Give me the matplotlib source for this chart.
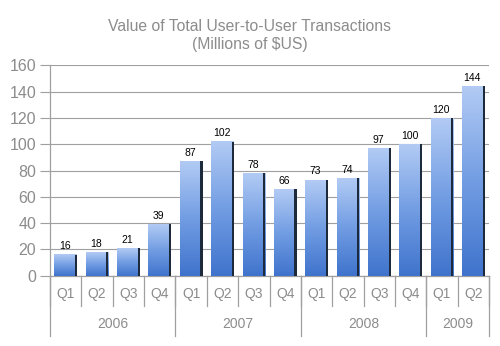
import numpy as np
import matplotlib.pyplot as plt
from matplotlib.colors import LinearSegmentedColormap

plt.rcParams["font.family"] = ["Liberation Sans", "DejaVu Sans"]

quarters = ["Q1", "Q2", "Q3", "Q4", "Q1", "Q2", "Q3", "Q4",
            "Q1", "Q2", "Q3", "Q4", "Q1", "Q2"]
values = [16, 18, 21, 39, 87, 102, 78, 66, 73, 74, 97, 100, 120, 144]
years = ["2006", "2007", "2008", "2009"]
year_counts = [4, 4, 4, 2]

grey = "#8c8c8c"
line_grey = "#a0a0a0"

fig = plt.figure(figsize=(5, 3.46), dpi=100)
ax = fig.add_axes([0.1, 0.203, 0.878, 0.608])

cmap = LinearSegmentedColormap.from_list("bar", ["#3f73cc", "#729de3", "#b2cbf4"])
grad = np.linspace(0, 1, 256).reshape(-1, 1)

n = len(values)
bw = 0.72
for i, v in enumerate(values):
    x0 = i + (1 - bw) / 2
    x1 = x0 + bw
    ax.imshow(grad, extent=[x0, x1, 0, v], origin="lower", aspect="auto",
              cmap=cmap, zorder=3)
    ax.bar(x1 - 0.03, v, width=0.07, color="#1c2a3c", zorder=4)
    ax.text(i + 0.5 - 0.03, v + 2.5, str(v), ha="center", va="bottom",
            fontsize=7.5, color="black", zorder=5)

ax.set_xlim(0, n)
ax.set_ylim(0, 160)
ax.set_yticks(range(0, 161, 20))
ax.yaxis.grid(True, color=line_grey, linewidth=0.8, zorder=0)
ax.set_axisbelow(True)
ax.tick_params(axis="y", labelsize=11.5, labelcolor=grey, color=line_grey,
               length=7, width=0.8, direction="out", pad=3)
ax.set_xticks([])
for s in ["top", "right"]:
    ax.spines[s].set_visible(False)
for s in ["left", "bottom"]:
    ax.spines[s].set_color(line_grey)
    ax.spines[s].set_linewidth(0.9)

tr = ax.get_xaxis_transform()
# quarter separators and labels
for i in range(n + 1):
    ax.plot([i, i], [0, -0.142], transform=tr, color=line_grey, lw=0.9,
            clip_on=False)
for i, q in enumerate(quarters):
    ax.text(i + 0.5, -0.085, q, transform=tr, ha="center", va="center",
            fontsize=10, color=grey)

# year separators and labels
start = 0
ax.plot([0, 0], [0, -0.285], transform=tr, color=line_grey, lw=0.9, clip_on=False)
for y, c in zip(years, year_counts):
    end = start + c
    ax.plot([end, end], [0, -0.285], transform=tr, color=line_grey, lw=0.9,
            clip_on=False)
    ax.text((start + end) / 2, -0.228, y, transform=tr, ha="center",
            va="center", fontsize=10, color=grey)
    start = end

fig.text(0.5, 0.897, "Value of Total User-to-User Transactions\n(Millions of $US)",
         ha="center", va="center", fontsize=11.3, color=grey, linespacing=1.2)

fig.savefig("out.png", dpi=100)
